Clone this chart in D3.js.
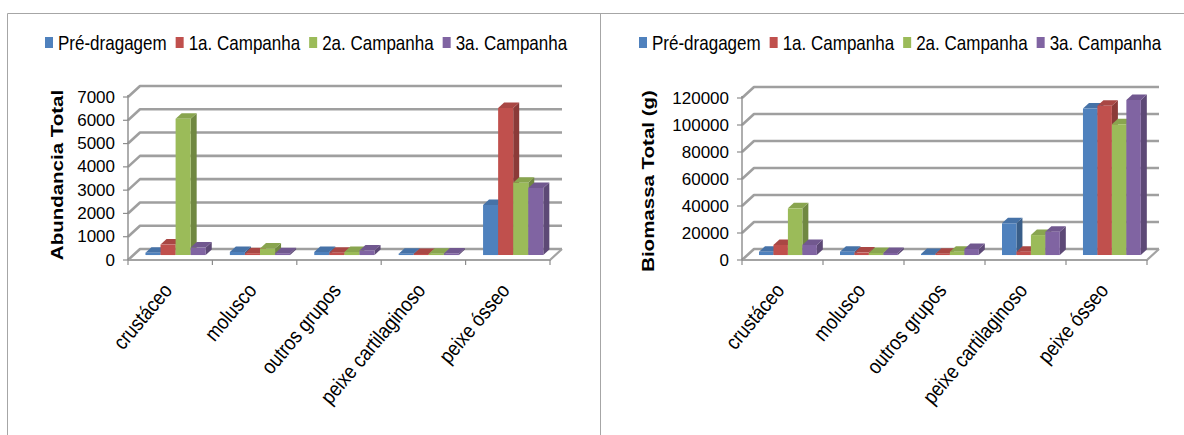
<!DOCTYPE html>
<html>
<head>
<meta charset="utf-8">
<script src="https://cdn.jsdelivr.net/npm/d3@7"></script>
<style>
  body { margin: 0; background: #fff; }
  svg { display: block; font-family: "Liberation Sans", Arial, sans-serif; }
</style>
</head>
<body>
<svg id="chart" width="1184" height="435"></svg>
<script>
// Categories and series
const categories = ["crustáceo", "molusco", "outros grupos", "peixe cartilaginoso", "peixe ósseo"];
const seriesNames = ["Pré-dragagem", "1a. Campanha", "2a. Campanha", "3a. Campanha"];
const seriesColors = ["#4F81BD", "#C0504D", "#9BBB59", "#8064A2"];

// Abundância total per campaign
const abundPre = [100, 130, 130, 60, 2150];
const abund1a  = [450, 80, 100, 50, 6320];
const abund2a  = [5850, 280, 130, 60, 3100];
const abund3a  = [320, 80, 200, 70, 2880];
const abundTicks = [0, 1000, 2000, 3000, 4000, 5000, 6000, 7000];

// Biomassa total (g) per campaign
const biomPre = [2400, 2500, 800, 23500, 108600];
const biom1a  = [7500, 1800, 1000, 2500, 110600];
const biom2a  = [34600, 1500, 2500, 14800, 96800];
const biom3a  = [7500, 1500, 4500, 17300, 114800];
const biomTicks = [0, 20000, 40000, 60000, 80000, 100000, 120000];

const svg = d3.select("#chart");
svg.append("rect").attr("width", 1184).attr("height", 435).attr("fill", "#fff");

// chart frames
svg.append("path")
  .attr("d", "M7.5,440V13.5H1190M600.5,13.5V440")
  .attr("fill", "none").attr("stroke", "#a6a6a6").attr("stroke-width", 1);

const NARROW = 0.81;

function drawPanel(cfg) {
  const g = svg.append("g");
  const DX = 12, DY = -11;          // depth vector of the 3D box
  const Z0 = 0.45, Z1 = 0.95;        // depth range occupied by the columns

  const y = d3.scaleLinear().domain([0, cfg.max]).range([cfg.yZero, cfg.yTop]);
  const x = d3.scaleBand().domain(categories).range([cfg.x0, cfg.x1]);
  const xs = d3.scaleBand().domain(seriesNames).range([0, x.bandwidth()])
    .paddingInner(0).paddingOuter(0.8);
  const P = (px, v, z) => [px + z * DX, y(v) + z * DY];
  const pts = arr => arr.map(p => p.join(",")).join(" ");

  // side-wall and back-wall gridlines
  cfg.ticks.forEach(t => {
    const a = P(cfg.x0, t, 0), b = P(cfg.x0, t, 1), c = P(cfg.x1, t, 1);
    g.append("path")
      .attr("d", `M${a}L${b}L${c}`)
      .attr("fill", "none")
      .attr("stroke", "#9f9f9f")
      .attr("stroke-width", 2.6)
      .attr("stroke-linejoin", "round");
  });

  // floor outline
  const f0 = P(cfg.x0, 0, 0), f1 = P(cfg.x1, 0, 0), f2 = P(cfg.x1, 0, 1);
  g.append("path").attr("d", `M${f0}L${f1}L${f2}`)
    .attr("fill", "none").attr("stroke", "#a3a3a3").attr("stroke-width", 2.2)
    .attr("stroke-linejoin", "round");

  // value axis
  g.append("line")
    .attr("x1", cfg.x0).attr("x2", cfg.x0)
    .attr("y1", y(0)).attr("y2", y(cfg.max) - 2)
    .attr("stroke", "#8c8c8c").attr("stroke-width", 1.4);
  cfg.ticks.forEach(t => {
    g.append("line")
      .attr("x1", cfg.x0 - 5).attr("x2", cfg.x0)
      .attr("y1", y(t)).attr("y2", y(t))
      .attr("stroke", "#8c8c8c").attr("stroke-width", 1.2);
    g.append("text")
      .attr("x", cfg.x0 - 13).attr("y", y(t))
      .attr("text-anchor", "end").attr("dominant-baseline", "central")
      .attr("font-size", 17).attr("fill", "#000")
      .text(t);
  });

  // category tick marks
  const bounds = categories.map(c => x(c)).concat([cfg.x1]);
  bounds.forEach(bx => {
    g.append("line")
      .attr("x1", bx).attr("x2", bx)
      .attr("y1", y(0)).attr("y2", y(0) + 5)
      .attr("stroke", "#8c8c8c").attr("stroke-width", 1.2);
  });

  // 3D columns
  categories.forEach((cat, ci) => {
    cfg.series.forEach((vals, si) => {
      const v = vals[ci];
      const base = d3.color(seriesColors[si]);
      const xl = x(cat) + xs(seriesNames[si]);
      const xr = xl + xs.bandwidth();
      const bar = g.append("g");
      bar.append("polygon")
        .attr("points", pts([P(xr, 0, Z0), P(xr, v, Z0), P(xr, v, Z1), P(xr, 0, Z1)]))
        .attr("fill", base.darker(0.9));
      bar.append("polygon")
        .attr("points", pts([P(xl, v, Z0), P(xr, v, Z0), P(xr, v, Z1), P(xl, v, Z1)]))
        .attr("fill", base.darker(0.35));
      bar.append("polygon")
        .attr("points", pts([P(xl, 0, Z0), P(xl, v, Z0), P(xr, v, Z0), P(xr, 0, Z0)]))
        .attr("fill", base);
    });
  });

  // category labels
  categories.forEach(cat => {
    const cx = x(cat) + x.bandwidth() / 2 + 3;
    g.append("text")
      .attr("transform", `translate(${cx},${y(0) + 31}) rotate(-50) scale(0.86,1)`)
      .attr("text-anchor", "end")
      .attr("font-size", 21).attr("fill", "#000")
      .text(cat);
  });

  // axis title
  g.append("text")
    .attr("transform", `translate(${cfg.titleX},${cfg.titleY}) scale(${NARROW},1) rotate(-90)`)
    .attr("text-anchor", "middle").attr("dominant-baseline", "central")
    .attr("font-size", 20.5).attr("font-weight", "bold").attr("fill", "#000")
    .text(cfg.title);

  // legend
  const lg = g.append("g");
  let lx = cfg.legendX;
  seriesNames.forEach((name, si) => {
    lg.append("rect")
      .attr("x", lx).attr("y", 37).attr("width", 8).attr("height", 11)
      .attr("fill", seriesColors[si]);
    lx += 13;
    const t = lg.append("text")
      .attr("transform", `translate(${lx},49.5) scale(${NARROW},1)`)
      .attr("font-size", 21).attr("fill", "#000")
      .text(name);
    lx += t.node().getComputedTextLength() * NARROW + 9;
  });
}

drawPanel({
  x0: 128, x1: 550, yZero: 260, yTop: 97, max: 7000,
  ticks: abundTicks,
  series: [abundPre, abund1a, abund2a, abund3a],
  title: "Abundancia Total", titleX: 57, titleY: 175,
  legendX: 45
});

drawPanel({
  x0: 742, x1: 1147, yZero: 260, yTop: 98, max: 120000,
  ticks: biomTicks,
  series: [biomPre, biom1a, biom2a, biom3a],
  title: "Biomassa Total (g)", titleX: 648, titleY: 181,
  legendX: 639
});
</script>
</body>
</html>
